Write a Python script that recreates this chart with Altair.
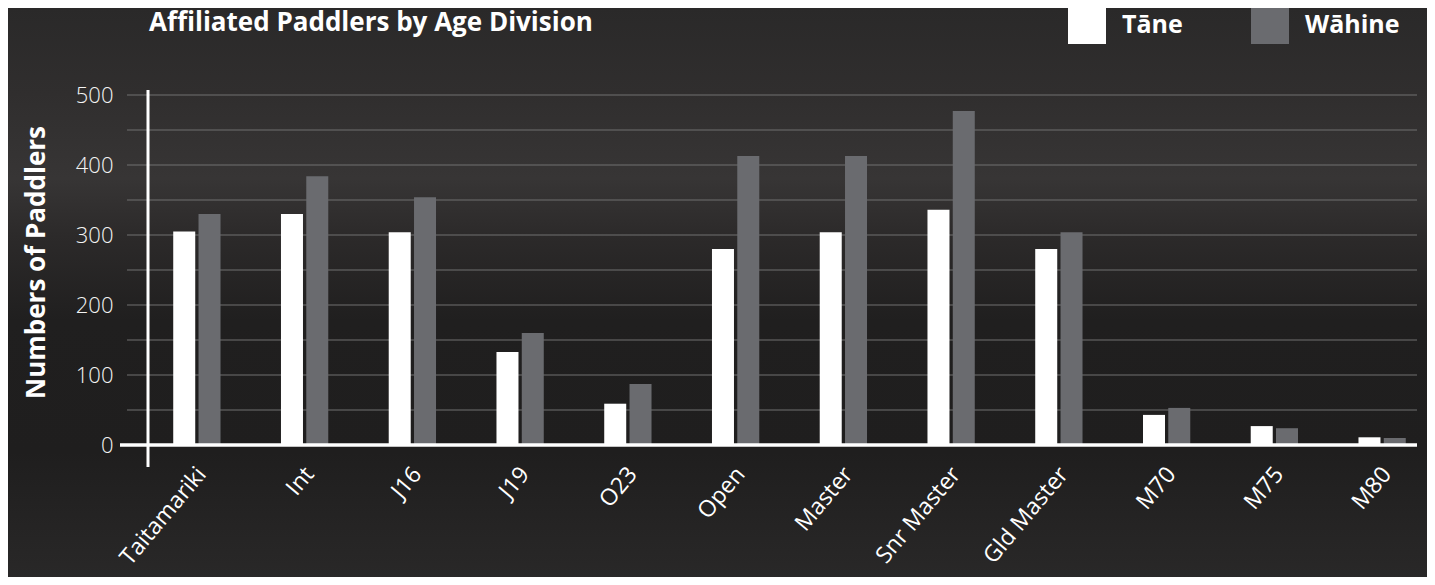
import altair as alt
import pandas as pd

categories = ["Taitamariki", "Int", "J16", "J19", "O23", "Open", "Master",
              "Snr Master", "Gld Master", "M70", "M75", "M80"]
tane = [305, 330, 304, 133, 59, 280, 304, 336, 280, 43, 27, 11]
wahine = [330, 384, 354, 160, 87, 413, 413, 477, 304, 53, 24, 10]
series = ["Tāne", "Wāhine"]
grid_values = [50, 100, 150, 200, 250, 300, 350, 400, 450, 500]
y_ticks = [0, 100, 200, 300, 400, 500]
title_text = ["Affiliated Paddlers by Age Division"]
y_title = "Numbers of Paddlers"

rows = []
for c, t, w in zip(categories, tane, wahine):
    rows.append({"division": c, "gender": series[0], "count": t})
    rows.append({"division": c, "gender": series[1], "count": w})
df = pd.DataFrame(rows)

W = 1274
H = 350
PL, PT, PR, PB = 135, 87, 10, 132
FONT = "Open Sans"

y_scale = alt.Scale(domain=[0, 500], nice=False)
y_axis = alt.Axis(
    values=y_ticks, grid=False, domain=False, ticks=False,
    labelFont=FONT, labelFontSize=22, labelColor="#f4f4f4",
    labelFontWeight=300, labelPadding=30,
    titleFont=FONT, titleFontSize=26, titleFontWeight="bold",
    titleColor="#ffffff", titleX=-107, titleY=167,
    titleAngle=-90, titleAlign="center", titleBaseline="middle",
    zindex=2,
)

bg = alt.Chart(pd.DataFrame({"a": [0]})).mark_rect(
    color=alt.Gradient(
        gradient="linear", x1=0, x2=0, y1=0, y2=1,
        stops=[
            alt.GradientStop(color="#2a2929", offset=0.0),
            alt.GradientStop(color="#302e2e", offset=0.15),
            alt.GradientStop(color="#373535", offset=0.30),
            alt.GradientStop(color="#2c2a2a", offset=0.40),
            alt.GradientStop(color="#201f1f", offset=0.55),
            alt.GradientStop(color="#1f1e1e", offset=0.78),
            alt.GradientStop(color="#292828", offset=1.0),
        ],
    )
).encode(
    x=alt.value(-PL), x2=alt.value(W + PR),
    y=alt.value(-PT), y2=alt.value(H + PB),
)

grid = alt.Chart(pd.DataFrame({"count": grid_values})).mark_rule(
    color="#707070", strokeWidth=1.2
).encode(
    y=alt.Y("count:Q", scale=y_scale, title=y_title, axis=y_axis),
    x=alt.value(-16), x2=alt.value(W),
)

bars = alt.Chart(df).mark_bar().encode(
    x=alt.X(
        "division:N", sort=categories, title=None,
        scale=alt.Scale(range=[0, 1293], paddingInner=0.561, paddingOuter=0.2805),
        axis=alt.Axis(
            domain=False, ticks=False, labelAngle=-50, labelAlign="right",
            labelBaseline="middle", labelFont=FONT, labelFontSize=23,
            labelColor="#ffffff", labelPadding=25, labelOffset=5, zindex=2,
        ),
    ),
    xOffset=alt.XOffset("gender:N", sort=series,
                        scale=alt.Scale(paddingInner=0.13)),
    y=alt.Y("count:Q", scale=y_scale, title=y_title, axis=y_axis),
    color=alt.Color(
        "gender:N", sort=series,
        scale=alt.Scale(domain=series, range=["#ffffff", "#6a6b6f"]),
        legend=alt.Legend(
            title=None, orient="none", direction="horizontal",
            legendX=925, legendY=-89, padding=0,
            symbolType="square", symbolSize=1444, symbolStrokeWidth=0,
            symbolOpacity=1,
            labelFont=FONT, labelFontSize=25, labelFontWeight="bold",
            labelColor="#ffffff", labelOffset=16, columnPadding=68,
        ),
    ),
)

zero = alt.Chart(pd.DataFrame({"count": [0]})).mark_rule(
    color="#ffffff", strokeWidth=3.5
).encode(
    y=alt.Y("count:Q", scale=y_scale, title=y_title, axis=y_axis),
    x=alt.value(-23), x2=alt.value(W),
)

vline = alt.Chart(pd.DataFrame({"v": [0]})).mark_rule(
    color="#ffffff", strokeWidth=3
).encode(
    x=alt.value(5), y=alt.value(-5), y2=alt.value(H + 22),
)

title = alt.Chart(pd.DataFrame({"t": title_text})).mark_text(
    font=FONT, fontSize=26, fontWeight="bold", color="#ffffff",
    align="left", baseline="alphabetic",
).encode(
    text="t:N", x=alt.value(6), y=alt.value(-64),
)

chart = alt.layer(bg, grid, bars, zero, vline, title).properties(
    width=W,
    height=H,
    padding={"left": PL, "top": PT, "right": PR, "bottom": PB},
    autosize=alt.AutoSizeParams(type="none"),
    background="#262525",
).configure_view(stroke=None)

chart.save("out.html", embed_options={"renderer": "svg", "actions": False})
